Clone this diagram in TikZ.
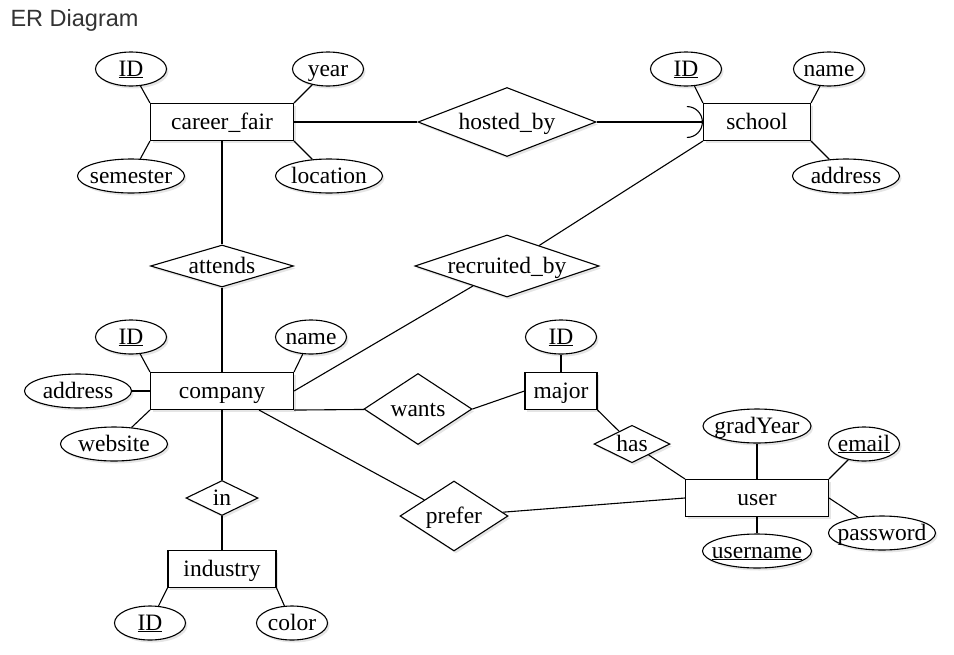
\documentclass[tikz,border=0pt]{standalone}
\usepackage{fontspec}
\setmainfont{Liberation Serif}
\newfontfamily\titlefont{Liberation Sans}
\usetikzlibrary{shapes.geometric,arrows.meta,shadows}
\definecolor{titlegray}{RGB}{51,51,51}
\begin{document}
\begin{tikzpicture}[x=1pt, y=-1pt, line width=1.1pt, font=\fontsize{23.5}{28}\selectfont,
  softshadow/.style={drop shadow={opacity=0.2, shadow xshift=2pt, shadow yshift=-2.5pt}},
  erbox/.style={text height=18pt, text depth=4pt, fill=white, softshadow},
  entity/.style={draw, rectangle, erbox, inner sep=0pt, minimum height=37pt},
  attrib/.style={draw, ellipse, erbox, inner xsep=-10pt, inner ysep=0pt, minimum width=71pt, minimum height=34pt},
  relship/.style={draw, diamond, erbox, inner sep=0pt}]
  \useasboundingbox (0,0) rectangle (954,654);
  \fill[white] (0,0) rectangle (954,654);
  \node[anchor=base west, inner sep=0pt, text=titlegray, font=\titlefont\fontsize{23.5}{28}\selectfont] (title) at (10,26) {ER Diagram};
  \node[entity, minimum width=143pt] (fair) at (222,122) {career\_fair};
  \node[attrib] (fairid) at (131,69) {\underline{ID}};
  \node[attrib] (fairyear) at (328,69) {year};
  \node[attrib, minimum width=107pt] (fairsem) at (131,176) {semester};
  \node[attrib, minimum width=107pt] (fairloc) at (329,176) {location};
  \node[relship, aspect=2.58, minimum width=178pt, minimum height=69pt] (hosted) at (507,122) {hosted\_by};
  \node[entity, minimum width=107pt] (school) at (757,122) {school};
  \node[attrib] (schid) at (686,69) {\underline{ID}};
  \node[attrib] (schname) at (829,69) {name};
  \node[attrib, minimum width=107pt] (schaddr) at (846,176) {address};
  \node[relship, aspect=3.4, minimum width=143pt, minimum height=42pt] (attends) at (222,266) {attends};
  \node[relship, aspect=2.97, minimum width=178pt, minimum height=60pt] (recruited) at (507,266) {recruited\_by};
  \node[entity, minimum width=143pt] (company) at (222,391) {company};
  \node[attrib] (compid) at (131,337) {\underline{ID}};
  \node[attrib] (compname) at (311,337) {name};
  \node[attrib, minimum width=107pt] (compaddr) at (78,391) {address};
  \node[attrib, minimum width=107pt] (compweb) at (114,444) {website};
  \node[relship, aspect=1.52, minimum width=108pt, minimum height=71pt] (wants) at (418,409) {wants};
  \node[entity, minimum width=72pt] (major) at (561,391) {major};
  \node[attrib] (majorid) at (561,337) {\underline{ID}};
  \node[relship, aspect=2.03, minimum width=71pt, minimum height=35pt] (has) at (632,444) {has};
  \node[entity, minimum width=143pt] (user) at (757,498) {user};
  \node[attrib, minimum width=108pt] (gradyear) at (757,426) {gradYear};
  \node[attrib] (email) at (864,444) {\underline{email}};
  \node[attrib, minimum width=107pt] (password) at (882,533) {password};
  \node[attrib, minimum width=109pt] (username) at (757,551) {\underline{username}};
  \node[relship, aspect=1.54, minimum width=108pt, minimum height=70pt] (prefer) at (454,516) {prefer};
  \node[relship, aspect=2.06, minimum width=72pt, minimum height=35pt] (relin) at (222,498) {in};
  \node[entity, minimum width=108pt] (industry) at (222,569) {industry};
  \node[attrib] (indid) at (150,623) {\underline{ID}};
  \node[attrib] (indcolor) at (292,623) {color};
  \coordinate (compout) at ([xshift=-35pt]company.south east);
  \draw (fair.north west) -- (fairid);
  \draw (fair.north east) -- (fairyear);
  \draw (fair.south west) -- (fairsem);
  \draw (fair.south east) -- (fairloc);
  \draw (fair) -- (hosted);
  \draw[-{Arc Barb[width=32pt, length=16pt]}] (hosted) -- (school);
  \draw (school.north west) -- (schid);
  \draw (school.north east) -- (schname);
  \draw (school.south east) -- (schaddr);
  \draw (fair) -- (attends);
  \draw (attends) -- (company);
  \draw (company.east) -- (recruited);
  \draw (recruited) -- (school.south west);
  \draw (company.north west) -- (compid);
  \draw (company.north east) -- (compname);
  \draw (company.west) -- (compaddr);
  \draw (company.south west) -- (compweb);
  \draw (company.south east) -- (wants);
  \draw (wants.east) -- (major.west);
  \draw (major) -- (majorid);
  \draw (major.south east) -- (has);
  \draw (has) -- (user.north west);
  \draw (compout) -- (prefer);
  \draw (prefer) -- (user.west);
  \draw (user) -- (gradyear);
  \draw (user.north east) -- (email);
  \draw (user.east) -- (password);
  \draw (user) -- (username);
  \draw (company) -- (relin);
  \draw (relin) -- (industry);
  \draw (industry.south west) -- (indid);
  \draw (industry.south east) -- (indcolor);
\end{tikzpicture}
\end{document}
